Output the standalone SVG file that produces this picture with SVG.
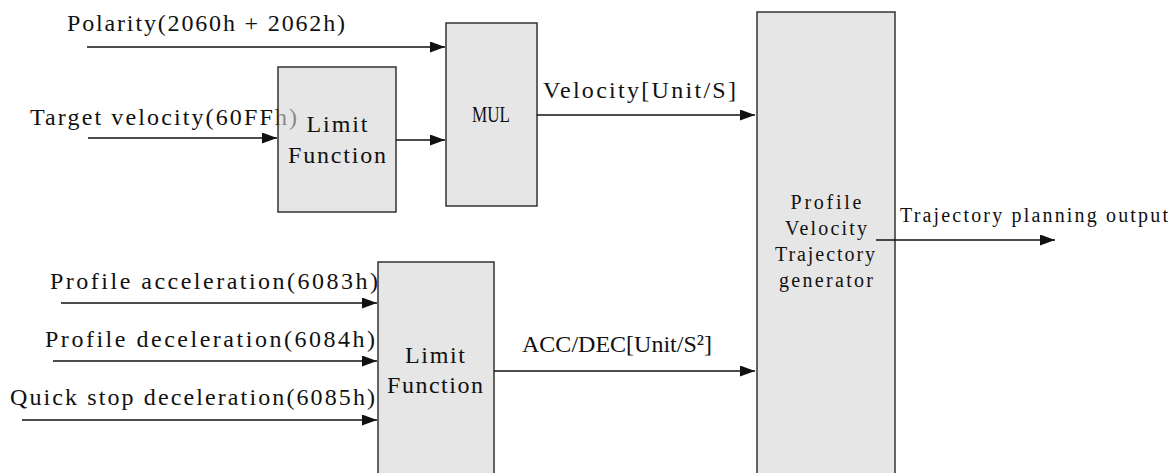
<svg xmlns="http://www.w3.org/2000/svg" width="1173" height="473" viewBox="0 0 1173 473">
<style>
.box{fill:#e6e6e6;stroke:#333;stroke-width:1.5}
.boxt{fill:#d5d5d5;fill-opacity:0.6;stroke:#333;stroke-width:1.5}
.ln{stroke:#111;stroke-width:1.5;fill:none;marker-end:url(#ah)}
text{font-family:"Liberation Serif","DejaVu Serif",serif;fill:#111}
.t20{font-size:24px}
.t17{font-size:20px}
.c{text-anchor:middle}
</style>
<defs>
<marker id="ah" markerUnits="userSpaceOnUse" markerWidth="16" markerHeight="12" refX="15" refY="5.5" orient="auto">
<path d="M0,0 L15,5.5 L0,11 z" fill="#111"/>
</marker>
</defs>
<g id="labels">
<text class="t20" x="67" y="31" textLength="278" lengthAdjust="spacing">Polarity(2060h + 2062h)</text>
<text class="t20" x="30" y="125" textLength="267" lengthAdjust="spacing">Target velocity(60FFh)</text>
<text class="t20" x="50" y="289" textLength="328" lengthAdjust="spacing">Profile acceleration(6083h)</text>
<text class="t20" x="45" y="347" textLength="330" lengthAdjust="spacing">Profile deceleration(6084h)</text>
<text class="t20" x="10" y="405" textLength="365" lengthAdjust="spacing">Quick stop deceleration(6085h)</text>
<text class="t20" x="543" y="98" textLength="193" lengthAdjust="spacing">Velocity[Unit/S]</text>
<text class="t20" x="522" y="352" textLength="190" lengthAdjust="spacing">ACC/DEC[Unit/S²]</text>
<text class="t17" x="900" y="222" textLength="268" lengthAdjust="spacing">Trajectory planning output</text>
</g>
<g id="limit1">
<rect class="boxt" x="278" y="67" width="118" height="145"/>
<text class="t20 c" x="337" y="132" textLength="61" lengthAdjust="spacing">Limit</text>
<text class="t20 c" x="337" y="163" textLength="98" lengthAdjust="spacing">Function</text>
</g>
<g id="mul">
<rect class="box" x="446" y="23" width="91" height="183"/>
<text class="t20 c" x="491" y="122" textLength="38" lengthAdjust="spacingAndGlyphs">MUL</text>
</g>
<g id="limit2">
<rect class="box" x="378" y="262" width="116" height="215"/>
<text class="t20 c" x="435" y="363" textLength="60" lengthAdjust="spacing">Limit</text>
<text class="t20 c" x="435" y="393" textLength="96" lengthAdjust="spacing">Function</text>
</g>
<g id="profile">
<rect class="box" x="757" y="12" width="138" height="465"/>
<text class="t17 c" x="826" y="209" textLength="71" lengthAdjust="spacing">Profile</text>
<text class="t17 c" x="826" y="235" textLength="82" lengthAdjust="spacing">Velocity</text>
<text class="t17 c" x="825" y="261" textLength="100" lengthAdjust="spacing">Trajectory</text>
<text class="t17 c" x="826" y="287" textLength="94" lengthAdjust="spacing">generator</text>
</g>
<g id="connectors">
<line class="ln" x1="87" y1="47" x2="445" y2="47"/>
<line class="ln" x1="88" y1="138" x2="277" y2="138"/>
<line class="ln" x1="396" y1="140" x2="445" y2="140"/>
<line class="ln" x1="537" y1="115" x2="755" y2="115"/>
<line class="ln" x1="876" y1="240" x2="1055" y2="240"/>
<line class="ln" x1="61" y1="303" x2="377" y2="303"/>
<line class="ln" x1="53" y1="361" x2="377" y2="361"/>
<line class="ln" x1="22" y1="420" x2="377" y2="420"/>
<line class="ln" x1="494" y1="371" x2="755" y2="371"/>
</g>
</svg>
